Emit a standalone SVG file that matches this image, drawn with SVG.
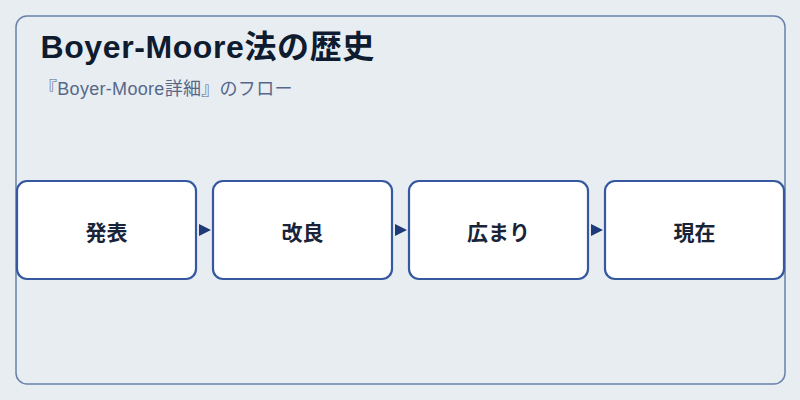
<svg xmlns="http://www.w3.org/2000/svg" width="800" height="400" viewBox="0 0 800 400">
<defs>
<style>
.bg{fill:#e8edf2}
.frame{fill:#e8edf2;stroke:#6a80aa;stroke-width:1.5}
.node rect{fill:#ffffff;stroke:#3558a0;stroke-width:2.2}
.node text{font-family:"Liberation Sans","Noto Sans CJK JP",sans-serif;font-size:21px;font-weight:bold;fill:#1a2438;text-anchor:middle}
.title{font-family:"Liberation Sans","Noto Sans CJK JP",sans-serif;font-size:32px;font-weight:bold;fill:#0f1b2e;letter-spacing:0.6px}
.sub{font-family:"Liberation Sans","Noto Sans CJK JP",sans-serif;font-size:18px;fill:#56688a;letter-spacing:0.3px}
.edge{stroke:#1e3a78;stroke-width:1.5;fill:none}
</style>
<marker id="arr" viewBox="0 0 10 10" refX="10" refY="5" markerWidth="12" markerHeight="16" markerUnits="userSpaceOnUse" orient="auto">
<path d="M0,0 L10,5 L0,10 Z" fill="#1e3a78"/>
</marker>
</defs>
<rect class="bg" x="0" y="0" width="800" height="400"/>
<rect class="frame" x="16" y="16" width="769" height="368" rx="11"/>
<text class="title" x="40.5" y="57.5">Boyer-Moore法の歴史</text>
<text class="sub" x="39" y="95">『Boyer-Moore詳細』のフロー</text>
<g id="connectors">
<line class="edge" x1="198" y1="230" x2="211" y2="230" marker-end="url(#arr)" stroke-opacity="0"/>
<line class="edge" x1="394" y1="230" x2="407" y2="230" marker-end="url(#arr)" stroke-opacity="0"/>
<line class="edge" x1="590" y1="230" x2="603" y2="230" marker-end="url(#arr)" stroke-opacity="0"/>
</g>
<g id="node1" class="node"><rect x="17" y="181" width="179" height="98" rx="10"/><text x="106.5" y="240">発表</text></g>
<g id="node2" class="node"><rect x="213" y="181" width="179" height="98" rx="10"/><text x="302.5" y="240">改良</text></g>
<g id="node3" class="node"><rect x="409" y="181" width="179" height="98" rx="10"/><text x="498.5" y="240">広まり</text></g>
<g id="node4" class="node"><rect x="605" y="181" width="179" height="98" rx="10"/><text x="694.5" y="240">現在</text></g>
</svg>
